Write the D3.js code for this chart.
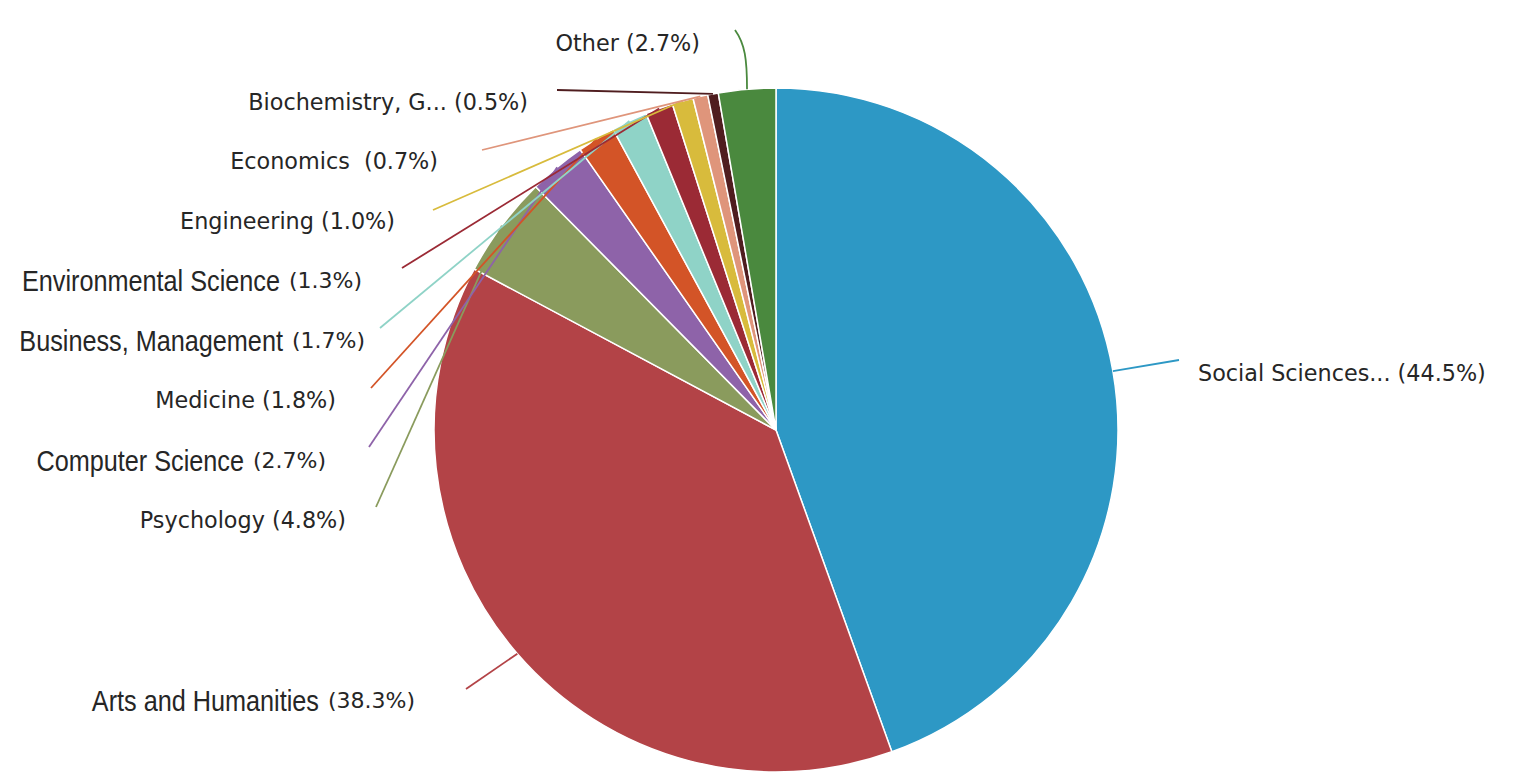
<!DOCTYPE html>
<html>
<head>
<meta charset="utf-8">
<script src="https://cdn.jsdelivr.net/npm/d3@7"></script>
<style>
  html, body { margin: 0; padding: 0; background: #fff; }
  text { white-space: pre; }
</style>
</head>
<body>
<div id="chart"></div>
<script>
// chart values, clockwise from 12 o'clock
var categories = ["Social Sciences...", "Arts and Humanities", "Psychology", "Computer Science",
    "Medicine", "Business, Management", "Environmental Science", "Engineering",
    "Economics ", "Biochemistry, G...", "Other"];
var shares = [44.5, 38.3, 4.8, 2.7, 1.8, 1.7, 1.3, 1.0, 0.7, 0.5, 2.7];

var sliceColors = ["#2d98c5", "#b34347", "#8a9b5d", "#8e63a9", "#d35427", "#8fd3c7",
    "#9b2a35", "#d8bb3c", "#df957b", "#4f1d1f", "#4a893e"];

// names that were typeset in a condensed face
var narrowNames = ["Arts and Humanities", "Computer Science", "Business, Management", "Environmental Science"];

// layout: where each leader line ends and its label sits
var labelLayout = [
    {lx: 1179, ly: 360, tx: 1198, ty: 373, anchor: "start"},
    {lx: 466, ly: 689, tx: 415, ty: 700, anchor: "end"},
    {lx: 376, ly: 507, tx: 346, ty: 520, anchor: "end"},
    {lx: 369, ly: 447, tx: 326, ty: 460, anchor: "end"},
    {lx: 371, ly: 388, tx: 336, ty: 400, anchor: "end"},
    {lx: 380, ly: 328, tx: 365, ty: 340, anchor: "end"},
    {lx: 402, ly: 268, tx: 362, ty: 280, anchor: "end"},
    {lx: 433, ly: 210, tx: 395, ty: 221, anchor: "end"},
    {lx: 482, ly: 150, tx: 438, ty: 161, anchor: "end"},
    {lx: 557, ly: 90, tx: 528, ty: 102, anchor: "end"},
    {lx: 735, ly: 30, tx: 700, ty: 43, anchor: "end"}
];

var canvasWidth = 1514;
var canvasHeight = 784;
var cx = 776, cy = 430, radius = 342;
var narrowScale = 0.87;

var svg = d3.select("#chart")
    .append("svg")
    .attr("width", canvasWidth)
    .attr("height", canvasHeight);

var color = d3.scaleOrdinal().domain(categories).range(sliceColors);

var pie = d3.pie().sort(null).value(function(d){ return d.share; });
var data = categories.map(function(c, i){ return {name: c, share: shares[i], pos: labelLayout[i]}; });
var arcs = pie(data);

var arc = d3.arc().innerRadius(0).outerRadius(radius);
var edgeArc = d3.arc().innerRadius(radius).outerRadius(radius);

var pieG = svg.append("g")
    .attr("transform", "translate(" + cx + "," + cy + ")");

pieG.selectAll(".slice")
    .data(arcs)
    .join("path")
    .attr("class", "slice")
    .attr("d", arc)
    .attr("fill", function(d){ return color(d.data.name); })
    .attr("stroke", "#fff")
    .attr("stroke-width", 1.5);

/*leader lines from the middle of each slice's rim*/
pieG.selectAll(".leader")
    .data(arcs)
    .join("path")
    .attr("class", "leader")
    .attr("fill", "none")
    .attr("stroke", function(d){ return color(d.data.name); })
    .attr("stroke-width", 1.8)
    .attr("d", function(d){
        var p = edgeArc.centroid(d);
        var ex = d.data.pos.lx - cx, ey = d.data.pos.ly - cy;
        if (d.data.name === "Other") {
            var path = d3.path();
            path.moveTo(p[0], p[1]);
            path.bezierCurveTo(p[0], p[1] - 30, p[0] - 2, ey + 14, ex, ey);
            return path.toString();
        }
        return "M" + p[0] + "," + p[1] + "L" + ex + "," + ey;
    });

/*labels*/
var labelG = svg.append("g").attr("fill", "#262626");

arcs.forEach(function(d){
    var pos = d.data.pos;
    var pct = "(" + d.data.share.toFixed(1) + "%)";
    if (narrowNames.indexOf(d.data.name) < 0) {
        labelG.append("text")
            .attr("x", pos.tx)
            .attr("y", pos.ty)
            .attr("dominant-baseline", "central")
            .attr("text-anchor", pos.anchor)
            .attr("font-family", "'DejaVu Sans', sans-serif")
            .attr("font-size", 22.3)
            .text(d.data.name + " " + pct);
        return;
    }
    // condensed name, then the percentage in the regular face
    var pctText = labelG.append("text")
        .attr("x", pos.tx)
        .attr("y", pos.ty)
        .attr("dominant-baseline", "central")
        .attr("text-anchor", "end")
        .attr("font-family", "'DejaVu Sans', sans-serif")
        .attr("font-size", 22)
        .text(pct);
    var w = pctText.node().getComputedTextLength();
    labelG.append("text")
        .attr("transform", "translate(" + (pos.tx - w - 9) + "," + (pos.ty + 1) + ") scale(" + narrowScale + ",1)")
        .attr("dominant-baseline", "central")
        .attr("text-anchor", "end")
        .attr("font-family", "'Liberation Sans', Arial, sans-serif")
        .attr("font-size", 29)
        .text(d.data.name);
});
</script>
</body>
</html>
